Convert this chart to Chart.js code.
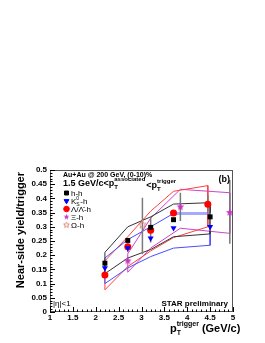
<!DOCTYPE html>
<html>
<head>
<meta charset="utf-8">
<script src="https://cdn.jsdelivr.net/npm/chart.js@4/dist/chart.umd.min.js"></script>
<style>
  html, body { margin: 0; padding: 0; background: #fff; }
  canvas { display: block; }
</style>
</head>
<body>
<canvas id="yieldChart" width="265" height="343"></canvas>
<script>
// values
const hhX = [2.2, 2.7, 3.2, 3.7, 4.5];
const hhY = [0.172, 0.252, 0.298, 0.325, 0.335];
const k0sX = [2.2, 2.7, 3.2, 3.7, 4.5];
const k0sY = [0.155, 0.225, 0.26, 0.296, 0.30];
const lamX = [2.2, 2.7, 3.2, 3.7, 4.45];
const lamY = [0.13, 0.23, 0.288, 0.349, 0.379];
const xiX = [2.7, 3.2, 3.85, 4.93];
const xiY = [0.18, 0.29, 0.37, 0.35];
const omegaX = [3.02];
const omegaY = [0.307];

// statistical error bars
const errX = [2.7, 3.02, 3.2, 3.85, 4.45, 4.5, 4.93];
const errLo = [0.21, 0.203, 0.245, 0.32, 0.355, 0.285, 0.24];
const errHi = [0.24, 0.402, 0.335, 0.42, 0.41, 0.35, 0.465];

// systematic bands (upper / lower edges)
const hhBandHi = [0.21, 0.30, 0.335, 0.38, 0.385];
const hhBandLo = [0.135, 0.19, 0.22, 0.265, 0.275];
const k0sBandHi = [0.19, 0.255, 0.30, 0.347, 0.347];
const k0sBandLo = [0.10, 0.155, 0.195, 0.225, 0.235];
const lamBandHi = [0.18, 0.265, 0.355, 0.425, 0.445];
const lamBandLo = [0.078, 0.16, 0.215, 0.262, 0.30];
const xiBandHi = [0.205, 0.33, 0.432, 0.42];
const xiBandLo = [0.14, 0.225, 0.295, 0.277];

const FONT = "'Liberation Sans', Arial, Helvetica, sans-serif";
const MAGENTA = '#c832c8';
const OMEGA = '#e08a80';

function starImage(fill, stroke, size) {
    const c = document.createElement('canvas');
    c.width = size; c.height = size;
    const g = c.getContext('2d');
    const R = size / 2 - 0.5, r = R * 0.45;
    g.beginPath();
    for (let i = 0; i < 10; i++) {
        const a = -Math.PI / 2 + i * Math.PI / 5;
        const rr = i % 2 ? r : R;
        g.lineTo(size / 2 + rr * Math.cos(a), size / 2 + rr * Math.sin(a));
    }
    g.closePath();
    if (fill) { g.fillStyle = fill; g.fill(); }
    if (stroke) { g.strokeStyle = stroke; g.lineWidth = 1; g.stroke(); }
    return c;
}
const xiStar = starImage(MAGENTA, null, 9);
const omegaStar = starImage(null, OMEGA, 9);
const xiStarSmall = starImage(MAGENTA, null, 7);
const omegaStarSmall = starImage(null, OMEGA, 7);

const pts = (xs, ys) => xs.map((x, i) => ({ x: x, y: ys[i] }));
const trim = v => String(+v.toFixed(2));

// closed box: left edge, along the top, back along the bottom
function band(xs, lo, hi) {
    const out = [{ x: xs[0], y: lo[0] }];
    xs.forEach((x, i) => out.push({ x: x, y: hi[i] }));
    for (let i = xs.length - 1; i >= 0; i--) out.push({ x: xs[i], y: lo[i] });
    return out;
}

function errorSegments() {
    const out = [];
    errX.forEach((x, i) => {
        out.push({ x: x, y: errLo[i] }, { x: x, y: errHi[i] }, { x: x, y: null });
    });
    return out;
}

function lineSet(data, color, extra) {
    return Object.assign({
        data: data, showLine: true, borderColor: color, borderWidth: 1,
        pointRadius: 0, pointHoverRadius: 0, fill: false, tension: 0, spanGaps: false
    }, extra || {});
}

// frame, inward ticks and all the ROOT-style text
const decor = {
    id: 'decor',
    afterDraw(chart) {
        const { ctx, chartArea: a, scales } = chart;
        ctx.save();
        ctx.strokeStyle = '#555';
        ctx.lineWidth = 1;
        ctx.strokeRect(a.left + 0.5, a.top + 0.5, a.right - a.left - 1, a.bottom - a.top - 1);
        ctx.strokeStyle = '#000';
        ctx.beginPath();
        for (let i = 0; i <= 50; i++) {
            const y = Math.round(scales.y.getPixelForValue(i * 0.01)) + 0.5;
            const len = i % 5 === 0 ? 5 : 2.5;
            ctx.moveTo(a.left, y); ctx.lineTo(a.left + len, y);
        }
        for (let i = 0; i <= 40; i++) {
            const x = Math.round(scales.x.getPixelForValue(1 + i * 0.1)) + 0.5;
            const len = i % 5 === 0 ? 5 : 2.5;
            ctx.moveTo(x, a.bottom); ctx.lineTo(x, a.bottom - len);
        }
        ctx.stroke();

        ctx.fillStyle = '#000';
        ctx.textBaseline = 'alphabetic';

        // y title
        ctx.save();
        ctx.translate(24, 172);
        ctx.rotate(-Math.PI / 2);
        ctx.textAlign = 'right';
        ctx.font = 'bold 11px ' + FONT;
        ctx.fillText('Near-side yield/trigger', 0, 0);
        ctx.restore();

        // x title  p_T^trigger (GeV/c)
        ctx.textAlign = 'left';
        let x = 170;
        ctx.font = 'bold 11px ' + FONT;
        ctx.fillText('p', x, 332);
        x += ctx.measureText('p').width;
        ctx.font = 'bold 7px ' + FONT;
        ctx.fillText('T', x, 335);
        ctx.fillText('trigger', x, 326);
        x += ctx.measureText('trigger').width + 3;
        ctx.font = 'bold 11px ' + FONT;
        ctx.fillText('(GeV/c)', x, 332);

        // header
        ctx.font = 'bold 7px ' + FONT;
        ctx.fillText('Au+Au @ 200 GeV, (0-10)%', 63, 177);
        x = 63;
        ctx.font = 'bold 9px ' + FONT;
        ctx.fillText('1.5 GeV/c<p', x, 186);
        x += ctx.measureText('1.5 GeV/c<p').width;
        ctx.font = 'bold 6px ' + FONT;
        ctx.fillText('T', x, 189);
        ctx.fillText('associated', x, 181);
        x += ctx.measureText('associated').width + 1;
        ctx.font = 'bold 9px ' + FONT;
        ctx.fillText('<p', x, 188);
        x += ctx.measureText('<p').width;
        ctx.font = 'bold 6px ' + FONT;
        ctx.fillText('T', x, 191);
        ctx.fillText('trigger', x, 183);

        // legend
        const rows = [
            { y: 193, style: 'rect', color: '#000', text: 'h-h' },
            { y: 201, style: 'triangle', rot: 180, color: '#0000ff', text: 'K' },
            { y: 209, style: 'circle', color: '#ff0000', text: 'Λ/Λ̄-h' },
            { y: 217, style: xiStarSmall, color: MAGENTA, text: 'Ξ-h' },
            { y: 225, style: omegaStarSmall, color: OMEGA, text: 'Ω-h' }
        ];
        rows.forEach(r => {
            ctx.fillStyle = r.color;
            ctx.strokeStyle = r.color;
            Chart.helpers.drawPoint(ctx, {
                pointStyle: r.style, rotation: r.rot || 0, radius: 2.8, borderWidth: 1
            }, 66.5, r.y);
            ctx.fillStyle = '#000';
            ctx.font = '8px ' + FONT;
            if (r.text === 'K') {
                ctx.fillText('K', 71, r.y + 3);
                const w = ctx.measureText('K').width;
                ctx.font = '5px ' + FONT;
                ctx.fillText('0', 71 + w, r.y - 1);
                ctx.fillText('S', 71 + w, r.y + 5);
                ctx.font = '8px ' + FONT;
                ctx.fillText('-h', 71 + w + 4, r.y + 3);
            } else {
                ctx.fillText(r.text, 71, r.y + 3);
            }
        });

        ctx.font = 'bold 9px ' + FONT;
        ctx.textAlign = 'right';
        ctx.fillText('(b)', 230, 182);
        ctx.font = 'bold 8px ' + FONT;
        ctx.fillText('STAR preliminary', 228, 306);
        ctx.textAlign = 'left';
        ctx.font = '8px ' + FONT;
        ctx.fillText('|η|<1', 53, 306);
        ctx.restore();
    }
};

const ctx = document.getElementById('yieldChart').getContext('2d');
new Chart(ctx, {
    type: 'scatter',
    data: {
        datasets: [
            { data: pts(hhX, hhY), pointStyle: 'rect', pointRadius: 3.5, backgroundColor: '#000', borderColor: '#000', borderWidth: 0 },
            { data: pts(k0sX, k0sY), pointStyle: 'triangle', rotation: 180, pointRadius: 3.5, backgroundColor: '#0000ff', borderColor: '#0000ff', borderWidth: 0 },
            { data: pts(lamX, lamY), pointStyle: 'circle', pointRadius: 3.5, backgroundColor: '#ff0000', borderColor: '#ff0000', borderWidth: 0 },
            { data: pts(xiX, xiY), pointStyle: xiStar },
            { data: pts(omegaX, omegaY), pointStyle: omegaStar },
            lineSet(errorSegments(), '#7a7a7a', { borderWidth: 1.5 }),
            lineSet(band(hhX, hhBandLo, hhBandHi), '#333333'),
            lineSet(band(k0sX, k0sBandLo, k0sBandHi), '#4c4cff', {
                segment: {
                    borderWidth: c => (c.p0.parsed.x === 3.7 && c.p1.parsed.x === 4.5 && c.p0.parsed.y === c.p1.parsed.y) ? 3 : 1,
                    borderColor: c => (c.p0.parsed.x === 3.7 && c.p1.parsed.x === 4.5 && c.p0.parsed.y === c.p1.parsed.y) ? 'rgba(110,110,255,0.6)' : '#4c4cff'
                }
            }),
            lineSet(band(lamX, lamBandLo, lamBandHi), '#ff4040'),
            lineSet(band(xiX, xiBandLo, xiBandHi), '#cc44cc')
        ]
    },
    options: {
        responsive: false,
        animation: false,
        events: [],
        layout: { padding: { left: 0, right: 32, top: 170, bottom: 0 } },
        plugins: { legend: { display: false }, tooltip: { enabled: false } },
        scales: {
            x: {
                type: 'linear', min: 1, max: 5,
                grid: { display: false, drawTicks: false },
                border: { display: false },
                ticks: { stepSize: 0.5, padding: 1, maxRotation: 0, autoSkip: false, color: '#000', font: { family: FONT, size: 8, weight: 'bold' }, callback: trim },
                afterFit: s => { s.height = 31; }
            },
            y: {
                min: 0, max: 0.5,
                grid: { display: false, drawTicks: false },
                border: { display: false },
                ticks: { stepSize: 0.05, padding: 3, color: '#000', font: { family: FONT, size: 8, weight: 'bold' }, callback: trim },
                afterFit: s => { s.width = 50; }
            }
        }
    },
    plugins: [decor]
});
</script>
</body>
</html>
